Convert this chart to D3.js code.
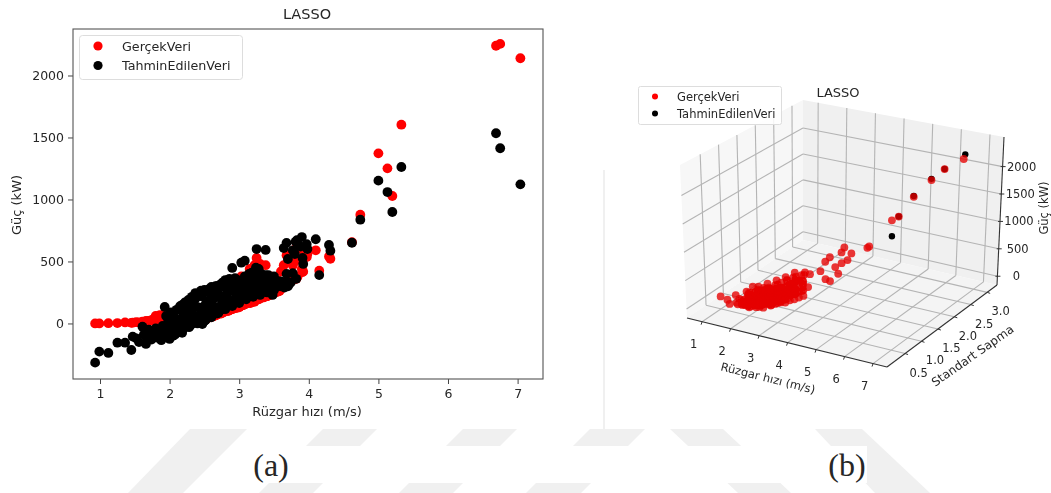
<!DOCTYPE html>
<html>
<head>
<meta charset="utf-8">
<title>LASSO</title>
<script src="https://cdn.jsdelivr.net/npm/d3@7"></script>
<style>
  html, body { margin: 0; padding: 0; background: #fff; }
  svg { display: block; font-family: "DejaVu Sans", sans-serif; }
  text { fill: #262626; }
</style>
</head>
<body>
<div id="chart"></div>
<script>
// (a) 2d scatter: wind speed, measured power, predicted power
const windSpeed = [
  0.93, 0.99, 1.12, 1.25, 1.36, 1.45, 1.47, 1.52, 1.56, 1.61,
  1.63, 1.66, 1.68, 1.72, 1.74, 1.78, 1.80, 1.83, 1.86, 1.88,
  1.90, 1.92, 1.93, 1.95, 1.97, 1.98, 2.00, 2.02, 2.03, 2.05,
  2.07, 2.08, 2.10, 2.12, 2.13, 2.15, 2.17, 2.18, 2.20, 2.22,
  2.23, 2.25, 2.27, 2.28, 2.30, 2.32, 2.33, 2.35, 2.37, 2.38,
  2.40, 2.42, 2.43, 2.45, 2.47, 2.48, 2.50, 2.52, 2.54, 2.56,
  2.58, 2.60, 2.62, 2.64, 2.66, 2.68, 2.70, 2.72, 2.74, 2.76,
  2.78, 2.80, 2.82, 2.84, 2.86, 2.88, 2.90, 2.92, 2.94, 2.96,
  2.98, 3.00, 3.02, 3.03, 3.06, 3.08, 3.10, 3.12, 3.14, 3.16,
  3.18, 3.20, 3.22, 3.24, 3.25, 3.28, 3.30, 3.32, 3.34, 3.38,
  3.40, 3.42, 3.44, 3.48, 3.52, 3.56, 3.60, 3.62, 3.64, 3.68,
  3.68, 3.68, 3.70, 3.72, 3.74, 3.77, 3.77, 3.80, 3.81, 3.82,
  3.83, 3.84, 3.88, 3.90, 3.91, 3.92, 3.97, 3.98, 4.10, 4.15,
  4.29, 4.31, 4.62, 4.74, 5.00, 5.13, 5.20, 5.33, 6.69, 6.75,
  7.04,
  1.70, 1.75, 1.80, 1.85, 1.90, 1.95, 2.00, 2.10, 2.20, 2.30,
  2.40, 2.50, 2.60, 2.70, 2.80, 2.90, 3.00, 3.10, 3.20, 3.30,
  3.40, 3.50, 2.02, 2.12, 2.22, 2.32, 2.42, 2.52, 2.62, 2.72,
  2.82, 2.92, 3.02, 3.12, 2.06, 2.16, 2.26, 2.36, 2.46, 2.56,
  2.66, 2.76, 2.86, 2.96, 3.06, 3.16, 3.26, 3.36, 2.05, 2.15,
  2.25, 2.35, 2.45, 2.55, 2.65, 2.75, 2.85, 2.95, 3.05, 3.15,
  3.25, 3.35, 3.45, 3.55, 2.18, 2.28, 2.38, 2.48, 2.58, 2.68,
  2.78, 2.88, 2.98, 3.08, 3.18, 3.28, 3.38, 3.48, 3.58, 3.50,
  3.55, 3.60, 3.45, 3.65, 3.70, 3.15, 3.22, 3.30, 2.95, 3.05
];
const actualPower = [
  0, 0, 2, 3, 8, 5, 6, 10, 8, 15,
  12, 20, 15, 22, 25, 28, 60, 35, 68, 45,
  50, 75, 55, 60, 40, 30, 35, 25, 30, 20,
  22, 15, 30, 25, 18, 30, 35, 20, 28, 25,
  28, 30, 22, 35, 25, 32, 30, 28, 38, 30,
  20, 35, 30, 28, 40, 35, 30, 45, 40, 50,
  55, 60, 55, 70, 65, 75, 80, 85, 80, 90,
  95, 100, 105, 100, 110, 120, 115, 125, 130, 125,
  135, 130, 145, 380, 150, 155, 160, 170, 300, 165,
  170, 180, 175, 190, 528, 195, 200, 210, 215, 470,
  220, 225, 230, 240, 250, 260, 280, 290, 470, 550,
  330, 320, 500, 345, 340, 470, 350, 500, 600, 360,
  370, 380, 600, 440, 415, 418, 535, 560, 590, 425,
  540, 522, 655, 877, 1372, 1251, 1028, 1603, 2240, 2255,
  2139,
  20, 28, 30, 40, 45, 40, 30, 28, 26, 30,
  30, 38, 55, 78, 100, 118, 135, 160, 180, 205,
  222, 245, 30, 26, 30, 28, 35, 42, 58, 82,
  105, 122, 140, 165, 25, 30, 28, 34, 38, 48,
  65, 88, 108, 128, 148, 170, 195, 215, 24, 28,
  25, 32, 36, 46, 64, 85, 105, 126, 150, 168,
  190, 210, 235, 255, 26, 30, 33, 38, 52, 70,
  92, 112, 132, 155, 175, 198, 218, 240, 262, 300,
  350, 420, 380, 300, 310, 440, 470, 480, 300, 360
];
const predictedPower = [
  -316, -227, -238, -155, -155, -214, -106, -120, -150, -26,
  -90, -165, -125, -60, -130, -85, -40, -115, -70, -135,
  -20, -110, 133, 60, -60, 20, -125, 90, -30, -100,
  50, -90, 110, -20, -60, 140, 10, -75, 80, 170,
  -25, 110, 190, -30, 60, 215, 0, 130, 245, 20,
  60, 220, 10, 265, -5, 120, 270, 30, 180, 275,
  60, 295, 130, 210, 300, 80, 240, 310, 110, 330,
  150, 350, 220, 280, 360, 170, 448, 300, 365, 190,
  260, 340, 200, 490, 300, 506, 220, 250, 400, 320,
  240, 400, 260, 450, 600, 300, 230, 400, 330, 593,
  270, 390, 330, 230, 300, 340, 300, 320, 608, 650,
  400, 340, 520, 320, 330, 405, 590, 560, 660, 360,
  672, 640, 620, 697, 528, 480, 640, 600, 679, 390,
  633, 587, 651, 837, 1152, 1060, 899, 1262, 1534, 1413,
  1122,
  -50, -95, -60, -90, -45, -75, -100, -70, -40, -15,
  0, 20, 50, 85, 115, 140, 165, 195, 215, 235,
  250, 270, -10, 30, 70, 90, 130, 160, 190, 210,
  240, 260, 270, 290, 60, 110, 150, 190, 220, 250,
  270, 300, 310, 320, 340, 360, 370, 340, -50, -5,
  30, 50, 70, 100, 130, 160, 180, 210, 230, 260,
  280, 300, 290, 310, 150, 180, 230, 250, 280, 300,
  330, 345, 350, 380, 410, 440, 390, 350, 330, 380,
  300, 340, 270, 290, 300, 300, 320, 280, 300, 290
];

// (b) 3d scatter: wind speed, standard deviation, power
const wind3d = [
  1.00, 1.30, 1.35, 1.50, 1.60, 1.70, 1.75, 1.80, 1.80, 1.85,
  1.90, 1.90, 1.95, 2.00, 2.00, 2.00, 2.05, 2.05, 2.10, 2.10,
  2.15, 2.15, 2.20, 2.20, 2.25, 2.25, 2.30, 2.30, 2.35, 2.35,
  2.40, 2.40, 2.45, 2.45, 2.50, 2.50, 2.55, 2.55, 2.60, 2.60,
  2.65, 2.65, 2.70, 2.70, 2.75, 2.75, 2.80, 2.80, 2.85, 2.85,
  2.90, 2.90, 2.95, 2.95, 3.00, 3.00, 3.05, 3.05, 3.10, 3.10,
  3.15, 3.15, 3.20, 3.20, 3.25, 3.25, 3.30, 3.30, 3.35, 3.35,
  3.40, 3.45, 3.50, 3.50, 3.60, 3.70, 3.90, 4.10, 4.30, 3.80,
  3.90, 3.90, 3.80, 4.10, 4.00, 3.85, 4.70, 4.74, 5.00, 5.13,
  5.33, 7.04, 6.70, 6.75,
  1.90, 2.10, 2.30, 2.50, 2.70, 2.90, 2.00, 2.20, 2.40, 2.60,
  2.80, 3.00, 1.80, 3.20, 2.10, 2.30, 2.50, 2.70, 2.90, 3.10,
  3.30, 2.20, 2.40, 2.60, 2.80, 3.00, 3.20, 3.40, 2.00, 1.85,
  1.95, 2.25, 2.55, 2.85, 3.15, 3.35, 3.45, 3.55,
  2.20, 2.20, 2.20, 2.40, 2.40, 2.40, 2.60, 2.60, 2.60, 2.60,
  2.80, 2.80, 2.80, 2.80, 3.00, 3.00, 3.00, 3.00, 3.20, 3.20,
  3.20, 3.20, 3.40, 3.40, 3.40, 3.40, 2.10, 2.10, 2.30, 2.30,
  2.30, 2.50, 2.50, 2.50, 2.50, 2.70, 2.70, 2.70, 2.70, 2.90,
  2.90, 2.90, 2.90, 3.10, 3.10, 3.10, 3.10, 3.30, 3.30, 3.30,
  3.30, 3.50, 3.50, 3.50
];
const std3d = [
  0.50, 0.45, 0.65, 0.35, 0.55, 0.75, 0.35, 0.45, 0.65, 0.30,
  0.55, 0.40, 0.80, 0.30, 0.50, 0.70, 0.40, 0.60, 0.30, 0.85,
  0.50, 0.40, 0.70, 0.30, 0.55, 0.40, 0.80, 0.30, 0.60, 0.45,
  0.70, 0.35, 0.50, 0.90, 0.30, 0.60, 0.45, 0.75, 0.35, 0.95,
  0.55, 0.80, 0.40, 0.65, 0.30, 1.00, 0.50, 0.80, 0.40, 0.65,
  0.55, 1.05, 0.35, 0.75, 0.50, 0.90, 0.40, 0.65, 0.55, 0.95,
  0.45, 0.80, 0.60, 1.05, 0.50, 0.75, 0.65, 0.90, 0.55, 1.00,
  0.70, 0.60, 0.85, 1.05, 1.27, 1.33, 1.30, 1.29, 1.21, 1.25,
  1.30, 1.72, 1.72, 1.76, 1.73, 1.68, 1.73, 1.75, 2.19, 2.28,
  2.54, 1.63, 2.28, 2.78,
  0.70, 0.70, 0.80, 0.90, 1.00, 1.10, 0.60, 0.65, 0.75, 0.85,
  0.95, 1.05, 0.60, 1.15, 0.55, 0.60, 0.70, 0.75, 0.85, 0.90,
  1.00, 0.45, 0.50, 0.55, 0.60, 0.70, 0.80, 0.90, 0.45, 0.50,
  0.35, 0.30, 0.35, 0.45, 0.60, 0.75, 0.85, 0.95,
  0.40, 0.40, 0.40, 0.45, 0.45, 0.45, 0.50, 0.50, 0.50, 0.50,
  0.55, 0.55, 0.55, 0.55, 0.60, 0.60, 0.60, 0.60, 0.70, 0.70,
  0.70, 0.70, 0.80, 0.80, 0.80, 0.80, 0.45, 0.45, 0.45, 0.45,
  0.45, 0.50, 0.50, 0.50, 0.50, 0.55, 0.55, 0.55, 0.55, 0.60,
  0.60, 0.60, 0.60, 0.65, 0.65, 0.65, 0.65, 0.75, 0.75, 0.75,
  0.75, 0.85, 0.85, 0.85
];
const power3d = [
  60, 60, 65, 50, 70, 110, 100, 110, 130, 105,
  150, 115, 170, 115, 140, 180, 120, 160, 120, 200,
  150, 130, 180, 115, 160, 135, 220, 120, 190, 140,
  220, 130, 170, 270, 130, 210, 150, 250, 150, 310,
  200, 270, 170, 250, 150, 350, 190, 290, 180, 270,
  210, 390, 190, 300, 220, 350, 210, 290, 250, 410,
  240, 360, 290, 470, 260, 350, 310, 430, 290, 510,
  390, 340, 470, 520, 497, 650, 763, 617, 553, 387,
  345, 771, 671, 672, 554, 502, 848, 870, 1190, 1237,
  1514, 2300, 2240, 2250,
  260, 280, 320, 360, 400, 460, 200, 240, 280, 320,
  370, 420, 200, 480, 150, 180, 220, 260, 300, 340,
  400, 120, 140, 170, 190, 230, 280, 340, 110, 110,
  90, 100, 120, 150, 230, 280, 300, 340,
  100, 180, 260, 120, 200, 280, 130, 210, 290, 370,
  150, 230, 310, 390, 150, 230, 310, 400, 170, 260,
  350, 440, 200, 300, 400, 500, 80, 160, 90, 170,
  250, 100, 180, 260, 340, 120, 200, 280, 360, 130,
  210, 290, 370, 140, 230, 320, 410, 180, 280, 380,
  470, 220, 320, 420
];
const windPred3d = [5.20, 5.13, 5.33, 6.70, 7.04, 6.75];
const stdPred3d = [2.03, 2.28, 2.54, 2.28, 1.63, 2.82];
const powerPred3d = [990, 1237, 1530, 2240, 2320, 2320];

const xTicks3d = [1, 2, 3, 4, 5, 6, 7];
const stdTicks3d = [0.5, 1.0, 1.5, 2.0, 2.5, 3.0];
const powerTicks3d = [0, 500, 1000, 1500, 2000];
const legendLabels = ["GerçekVeri", "TahminEdilenVeri"];
const legendColors = ["#ff0000", "#000000"];

const svg = d3.select("#chart").append("svg")
  .attr("width", 1051)
  .attr("height", 493);

const defs = svg.append("defs");
defs.append("filter").attr("id", "softA")
  .append("feGaussianBlur").attr("stdDeviation", 0.35);
defs.append("filter").attr("id", "softB")
  .attr("filterUnits", "userSpaceOnUse")
  .attr("x", 600).attr("y", 60).attr("width", 451).attr("height", 360)
  .append("feGaussianBlur").attr("stdDeviation", 0.6);

// faint page watermark behind the captions
const mark = svg.append("g").attr("fill", "#f0f0f0");
const stripes = [
  [[190, 429], [247, 429], [183, 493], [128, 493]],
  [[323, 429], [377, 429], [313, 493], [259, 493]],
  [[463, 429], [517, 429], [453, 493], [399, 493]],
  [[590, 429], [645, 429], [581, 493], [526, 493]],
  [[670, 429], [723, 429], [791, 493], [738, 493]],
  [[815, 429], [862, 429], [930, 493], [875, 493]]
];
mark.selectAll("polygon").data(stripes).enter().append("polygon")
  .attr("points", d => d.join(" "));
svg.append("rect")
  .attr("x", 245).attr("y", 446).attr("width", 622).attr("height", 37)
  .attr("fill", "#fff");
svg.append("line")
  .attr("x1", 604).attr("x2", 604).attr("y1", 170).attr("y2", 429)
  .attr("stroke", "#f0f0f0").attr("stroke-width", 2);

// ---- panel (a) ----
const panelA = svg.append("g").attr("filter", "url(#softA)");
const box = {left: 73, right: 543, top: 29, bottom: 379};

const x = d3.scaleLinear().domain([0.612, 7.365]).range([box.left, box.right]);
const y = d3.scaleLinear().domain([-448, 2375]).range([box.bottom, box.top]);

panelA.append("g")
  .selectAll("circle")
  .data(windSpeed)
  .enter()
  .append("circle")
  .attr("cx", d => x(d))
  .attr("cy", (d, i) => y(actualPower[i]))
  .attr("r", 4.9)
  .attr("fill", legendColors[0]);

panelA.append("g")
  .selectAll("circle")
  .data(windSpeed)
  .enter()
  .append("circle")
  .attr("cx", d => x(d))
  .attr("cy", (d, i) => y(predictedPower[i]))
  .attr("r", 4.9)
  .attr("fill", legendColors[1]);

const xAxis = panelA.append("g")
  .attr("transform", "translate(0," + box.bottom + ")")
  .call(d3.axisBottom(x).tickValues(xTicks3d).tickFormat(d3.format("d")).tickSize(5).tickPadding(5));
const yAxis = panelA.append("g")
  .attr("transform", "translate(" + box.left + ",0)")
  .call(d3.axisLeft(y).tickValues([0, 500, 1000, 1500, 2000]).tickSize(5).tickPadding(4).tickFormat(d3.format("d")));
[xAxis, yAxis].forEach(a => {
  a.selectAll("text").style("font-size", "12.5px").style("font-family", "DejaVu Sans");
  a.selectAll("line").attr("stroke", "#444");
  a.select(".domain").remove();
});

panelA.append("rect")
  .attr("x", box.left).attr("y", box.top)
  .attr("width", box.right - box.left).attr("height", box.bottom - box.top)
  .attr("fill", "none").attr("stroke", "#555").attr("stroke-width", 1.1);

panelA.append("text").attr("x", 307).attr("y", 19)
  .attr("text-anchor", "middle").style("font-size", "14.5px").text("LASSO");
panelA.append("text").attr("x", 307).attr("y", 416)
  .attr("text-anchor", "middle").style("font-size", "13px").text("Rüzgar hızı (m/s)");
panelA.append("text")
  .attr("transform", "translate(21,205) rotate(-90)")
  .attr("text-anchor", "middle").style("font-size", "13px").text("Güç (kW)");

panelA.append("rect")
  .attr("x", 79.5).attr("y", 35.5).attr("width", 163).attr("height", 44).attr("rx", 3)
  .attr("fill", "#fff").attr("fill-opacity", 0.8).attr("stroke", "#ddd");
legendLabels.forEach((label, i) => {
  panelA.append("circle").attr("cx", 98).attr("cy", 46 + i * 19.5).attr("r", 4.6).attr("fill", legendColors[i]);
  panelA.append("text").attr("x", 122).attr("y", 50.5 + i * 19.5)
    .style("font-size", "12.7px").text(label);
});

// ---- panel (b) ----
const panelB = svg.append("g").attr("filter", "url(#softB)");

const ux = d3.scaleLinear().domain([0.47, 7.49]).range([0, 1]);
const vy = d3.scaleLinear().domain([-0.05, 3.3]).range([0, 1]);
const wz = d3.scaleLinear().domain([-160, 2540]).range([0, 1]);

// box corners as seen in the picture, interpolated for any (u, v, w)
const floorCorners = [[687, 318], [887, 367], [997, 285], [803, 240]];
const roofCorners = [[680, 165], [885, 200], [1004, 137], [803, 100]];

function bilinear(c, u, v) {
  const top = [c[0][0] + (c[1][0] - c[0][0]) * u, c[0][1] + (c[1][1] - c[0][1]) * u];
  const bot = [c[3][0] + (c[2][0] - c[3][0]) * u, c[3][1] + (c[2][1] - c[3][1]) * u];
  return [top[0] + (bot[0] - top[0]) * v, top[1] + (bot[1] - top[1]) * v];
}

function project(u, v, w) {
  const a = bilinear(floorCorners, u, v);
  const b = bilinear(roofCorners, u, v);
  return [a[0] + (b[0] - a[0]) * w, a[1] + (b[1] - a[1]) * w];
}

const line3d = (p, q, color, width) => panelB.append("line")
  .attr("x1", p[0]).attr("y1", p[1]).attr("x2", q[0]).attr("y2", q[1])
  .attr("stroke", color).attr("stroke-width", width);

const poly3d = (pts, color) => panelB.append("polygon")
  .attr("points", pts.join(" ")).attr("fill", color);

// panes
poly3d([project(0, 0, 0), project(0, 1, 0), project(0, 1, 1), project(0, 0, 1)], "#f7f7f7");
poly3d([project(0, 1, 0), project(1, 1, 0), project(1, 1, 1), project(0, 1, 1)], "#f0f0f0");
poly3d([project(0, 0, 0), project(1, 0, 0), project(1, 1, 0), project(0, 1, 0)], "#f4f4f4");

// grid
const gridColor = "#b4b4b4";
xTicks3d.forEach(t => {
  const u = ux(t);
  line3d(project(u, 0, 0), project(u, 1, 0), gridColor, 1.1);
  line3d(project(u, 1, 0), project(u, 1, 1), gridColor, 1.1);
});
stdTicks3d.forEach(t => {
  const v = vy(t);
  line3d(project(0, v, 0), project(1, v, 0), gridColor, 1.1);
  line3d(project(0, v, 0), project(0, v, 1), gridColor, 1.1);
});
powerTicks3d.forEach(t => {
  const w = wz(t);
  line3d(project(0, 0, w), project(0, 1, w), gridColor, 1.1);
  line3d(project(0, 1, w), project(1, 1, w), gridColor, 1.1);
});

// axes, ticks
line3d(project(0, 0, 0), project(1, 0, 0), "#333", 1.1);
line3d(project(1, 0, 0), project(1, 1, 0), "#333", 1.1);
line3d(project(1, 1, 0), project(1, 1, 1), "#333", 1.1);

xTicks3d.forEach(t => {
  const p = project(ux(t), 0, 0);
  line3d(p, [p[0] - 1, p[1] + 3], "#333", 1);
  panelB.append("text").attr("x", p[0] - 8.5).attr("y", p[1] + 26)
    .attr("text-anchor", "middle").style("font-size", "11.5px").text(t);
});
stdTicks3d.forEach(t => {
  const p = project(1, vy(t), 0);
  line3d(p, [p[0] + 3, p[1] + 1], "#333", 1);
  panelB.append("text").attr("x", p[0] + 13.5).attr("y", p[1] + 23)
    .attr("text-anchor", "middle").style("font-size", "11.5px").text(t.toFixed(1));
});
powerTicks3d.forEach(t => {
  const p = project(1, 1, wz(t));
  line3d([p[0] - 2, p[1]], [p[0] + 3, p[1]], "#333", 1);
  panelB.append("text").attr("x", p[0] + 19).attr("y", p[1] + 4)
    .attr("text-anchor", "middle").style("font-size", "11.5px").text(t);
});

panelB.append("text").attr("transform", "translate(767,382) rotate(14)")
  .attr("text-anchor", "middle").style("font-size", "11.5px").text("Rüzgar hızı (m/s)");
panelB.append("text").attr("transform", "translate(975,359) rotate(-35)")
  .attr("text-anchor", "middle").style("font-size", "12px").text("Standart Sapma");
panelB.append("text").attr("transform", "translate(1048,208) rotate(-90)")
  .attr("text-anchor", "middle").style("font-size", "11.5px").text("Güç (kW)");
panelB.append("text").attr("x", 838).attr("y", 97)
  .attr("text-anchor", "middle").style("font-size", "13px").text("LASSO");

// points
panelB.append("g")
  .selectAll("circle")
  .data(windPred3d)
  .enter()
  .append("circle")
  .attr("cx", (d, i) => project(ux(d), vy(stdPred3d[i]), wz(powerPred3d[i]))[0])
  .attr("cy", (d, i) => project(ux(d), vy(stdPred3d[i]), wz(powerPred3d[i]))[1])
  .attr("r", 3.2)
  .attr("fill", "#000");

panelB.append("g")
  .selectAll("circle")
  .data(wind3d)
  .enter()
  .append("circle")
  .attr("cx", (d, i) => project(ux(d), vy(std3d[i]), wz(power3d[i]))[0])
  .attr("cy", (d, i) => project(ux(d), vy(std3d[i]), wz(power3d[i]))[1])
  .attr("r", 3.9)
  .attr("fill", "#e60000")
  .attr("fill-opacity", 0.78);

panelB.append("rect")
  .attr("x", 638.5).attr("y", 86.5).attr("width", 143).attr("height", 38).attr("rx", 2)
  .attr("fill", "#fff").attr("fill-opacity", 0.85).attr("stroke", "#ddd");
legendLabels.forEach((label, i) => {
  panelB.append("circle").attr("cx", 655).attr("cy", 96.5 + i * 17).attr("r", 3).attr("fill", legendColors[i]);
  panelB.append("text").attr("x", 677).attr("y", 100.5 + i * 17)
    .style("font-size", "11.5px").text(label);
});

// captions
svg.append("text").attr("x", 271).attr("y", 476)
  .attr("text-anchor", "middle")
  .style("font-family", "Liberation Serif").style("font-size", "32px").attr("fill", "#000").text("(a)");
svg.append("text").attr("x", 847).attr("y", 476)
  .attr("text-anchor", "middle")
  .style("font-family", "Liberation Serif").style("font-size", "32px").attr("fill", "#000").text("(b)");
</script>
</body>
</html>
